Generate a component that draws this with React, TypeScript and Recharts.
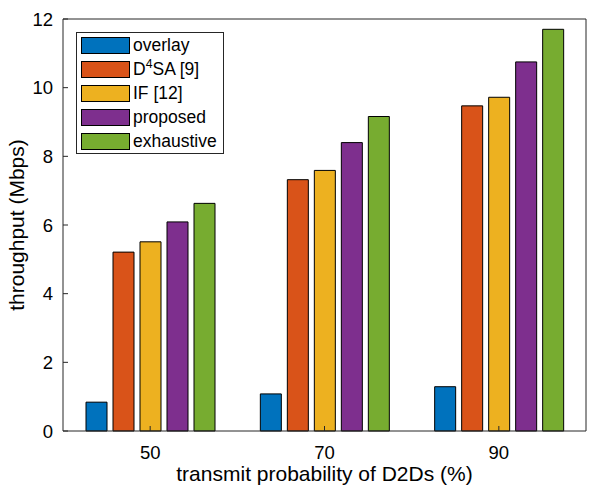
import React from 'react';
import { BarChart, Bar, XAxis, YAxis, Legend, Label } from 'recharts';

// ---- data ----
const categories: string[] = ['50', '70', '90'];
const overlay: number[] = [0.84, 1.08, 1.29];
const d4sa: number[] = [5.21, 7.32, 9.47];
const ifScheme: number[] = [5.51, 7.59, 9.72];
const proposed: number[] = [6.09, 8.4, 10.75];
const exhaustive: number[] = [6.63, 9.16, 11.7];
const yTicks: number[] = [0, 2, 4, 6, 8, 10, 12];

const seriesKeys = ['overlay', 'd4sa', 'ifScheme', 'proposed', 'exhaustive'];
const seriesNames = ['overlay', 'D4SA [9]', 'IF [12]', 'proposed', 'exhaustive'];
const seriesColors = ['#0072BD', '#D95319', '#EDB120', '#7E2F8E', '#77AC30'];
const seriesValues = [overlay, d4sa, ifScheme, proposed, exhaustive];

const data = categories.map((c, i) => {
  const row: Record<string, string | number> = { prob: c };
  seriesKeys.forEach((k, s) => {
    row[k] = seriesValues[s][i];
  });
  return row;
});

const FONT = '"Liberation Sans", Arial, Helvetica, sans-serif';
const AXIS = '#262626';

const renderName = (name: string) => {
  if (name === 'D4SA [9]') {
    return (
      <span>
        D<sup style={{ fontSize: '0.7em', verticalAlign: '0.55em', lineHeight: 0 }}>4</sup>SA [9]
      </span>
    );
  }
  return <span>{name}</span>;
};

const LegendBox = () => {
  return (
    <div
      style={{
        boxSizing: 'border-box',
        width: 148,
        border: `1px solid ${AXIS}`,
        background: '#fff',
        fontFamily: FONT,
        fontSize: 17.5,
        color: '#000',
      }}
    >
      {seriesNames.map((name, s) => (
        <div key={name} style={{ display: 'flex', alignItems: 'center', height: 24 }}>
          <div
            style={{
              boxSizing: 'border-box',
              width: 49,
              height: 17,
              marginLeft: 4,
              background: seriesColors[s],
              border: '1px solid #000',
            }}
          />
          <div style={{ marginLeft: 3, whiteSpace: 'nowrap' }}>{renderName(name)}</div>
        </div>
      ))}
    </div>
  );
};

export default function App() {
  return (
    <div style={{ position: 'absolute', left: 0, top: 0, width: 589, height: 490, background: '#fff' }}>
      <BarChart
        width={589}
        height={490}
        data={data}
        margin={{ top: 18, right: 2, bottom: 0, left: 0 }}
        barSize={21}
        barGap={6}
      >
        <XAxis
          dataKey="prob"
          type="category"
          height={59}
          padding={{ left: 0, right: 0 }}
          tickSize={-5}
          tickMargin={20}
          axisLine={{ stroke: AXIS, strokeWidth: 1 }}
          tickLine={{ stroke: AXIS, strokeWidth: 1 }}
          tick={{ fill: '#000', fontSize: 18.5, fontFamily: FONT }}
        >
          <Label
            content={(p: any) => {
              const vb = p.viewBox;
              return (
                <text
                  x={vb.x + vb.width / 2}
                  y={vb.y + 50}
                  textAnchor="middle"
                  fontSize={21}
                  fontFamily={FONT}
                  fill="#000"
                >
                  transmit probability of D2Ds (%)
                </text>
              );
            }}
          />
        </XAxis>
        <XAxis
          xAxisId="top"
          dataKey="prob"
          type="category"
          orientation="top"
          height={1}
          padding={{ left: 0, right: 0 }}
          tick={false}
          tickSize={-5}
          axisLine={{ stroke: AXIS, strokeWidth: 1 }}
          tickLine={{ stroke: AXIS, strokeWidth: 1 }}
        />
        <YAxis
          type="number"
          domain={[0, 12]}
          ticks={yTicks}
          width={63}
          tickSize={-5}
          tickMargin={15}
          axisLine={{ stroke: AXIS, strokeWidth: 1 }}
          tickLine={{ stroke: AXIS, strokeWidth: 1 }}
          tick={{ fill: '#000', fontSize: 18.5, fontFamily: FONT }}
        >
          <Label
            content={(p: any) => {
              const vb = p.viewBox;
              const cy = vb.y + vb.height / 2;
              return (
                <text
                  transform="rotate(-90)"
                  x={-cy}
                  y={vb.x + 24}
                  textAnchor="middle"
                  fontSize={21}
                  fontFamily={FONT}
                  fill="#000"
                >
                  throughput (Mbps)
                </text>
              );
            }}
          />
        </YAxis>
        <YAxis
          yAxisId="right"
          type="number"
          orientation="right"
          domain={[0, 12]}
          ticks={yTicks}
          width={1}
          tick={false}
          tickSize={-5}
          axisLine={{ stroke: AXIS, strokeWidth: 1 }}
          tickLine={{ stroke: AXIS, strokeWidth: 1 }}
        />
        <Legend
          layout="vertical"
          align="center"
          verticalAlign="middle"
          content={<LegendBox />}
          wrapperStyle={{ left: 76, top: 32, width: 148, height: 'auto' }}
        />
        {seriesKeys.map((k, s) => (
          <Bar
            key={k}
            dataKey={k}
            name={seriesNames[s]}
            fill={seriesColors[s]}
            stroke="#000"
            strokeWidth={1}
            isAnimationActive={false}
          />
        ))}
      </BarChart>
    </div>
  );
}
